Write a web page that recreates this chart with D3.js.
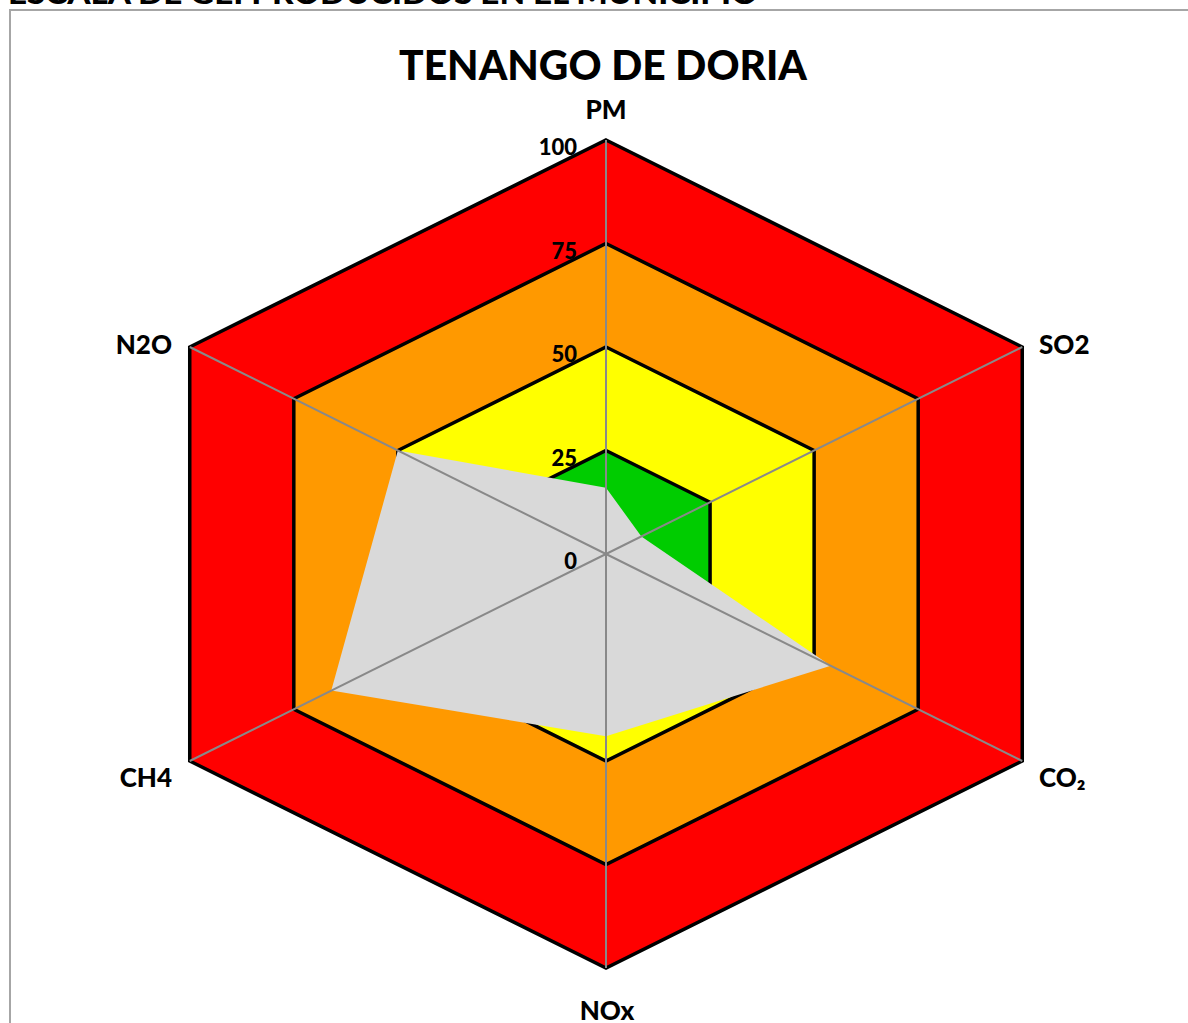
<!DOCTYPE html>
<html>
<head>
<meta charset="utf-8">
<script src="https://cdn.jsdelivr.net/npm/d3@7"></script>
<style>
  html, body { margin: 0; padding: 0; background: #fff; overflow: hidden; }
  svg { display: block; font-family: Lato, "Liberation Sans", sans-serif; font-weight: 900; }
</style>
</head>
<body>
<div id="chart"></div>
<script>
(function radar() {

    const WIDTH = 1188;
    const HEIGHT = 1023;

    // data
    const axes = ["PM", "SO2", "CO\u2082", "NOx", "CH4", "N2O"];
    const values = [16, 8.5, 54, 44, 66, 50];
    const bands = [100, 75, 50, 25];
    const bandColors = ["#FF0000", "#FF9900", "#FFFF00", "#00CC00"];
    const ticks = [0, 25, 50, 75, 100];

    const cx = 606, cy = 554;
    const kx = 1.161; // excel stretches the plot horizontally

    const r = d3.scaleLinear().domain([0, 100]).range([0, 414]);
    const angle = d3.scaleLinear().domain([0, axes.length]).range([0, 2 * Math.PI]);

    const px = (i, v) => cx + kx * r(v) * Math.sin(angle(i));
    const py = (i, v) => cy - r(v) * Math.cos(angle(i));

    const ring = v => axes.map((d, i) => [px(i, v), py(i, v)]);
    const line = d3.line().curve(d3.curveLinearClosed);

    const svg = d3.select("#chart").append("svg")
        .attr("width", WIDTH)
        .attr("height", HEIGHT);

    // cut off heading above the chart
    svg.append("text")
        .attr("x", 8)
        .attr("y", 4)
        .attr("fill", "#000")
        .style("font-size", "30px")
        .attr("textLength", 750)
        .attr("lengthAdjust", "spacingAndGlyphs")
        .text("ESCALA DE GEI PRODUCIDOS EN EL MUNICIPIO");

    // chart frame
    svg.append("rect")
        .attr("x", 10)
        .attr("y", 10)
        .attr("width", WIDTH + 20)
        .attr("height", HEIGHT + 20)
        .attr("fill", "#fff")
        .attr("stroke", "#A6A6A6")
        .attr("stroke-width", 2);

    svg.append("text")
        .attr("x", 603)
        .attr("y", 80)
        .attr("text-anchor", "middle")
        .style("font-size", "41px")
        .attr("textLength", 408)
        .attr("lengthAdjust", "spacingAndGlyphs")
        .text("TENANGO DE DORIA");

    // colored bands
    svg.append("g").selectAll("path")
        .data(bands)
        .join("path")
        .attr("d", v => line(ring(v)))
        .attr("fill", (v, i) => bandColors[i])
        .attr("stroke", "#000")
        .attr("stroke-width", 3.5)
        .attr("stroke-linejoin", "miter");

    // data polygon
    svg.append("path")
        .attr("d", line(values.map((v, i) => [px(i, v), py(i, v)])))
        .attr("fill", "#D9D9D9");

    // spokes
    svg.append("g").selectAll("line")
        .data(axes)
        .join("line")
        .attr("x1", cx)
        .attr("y1", cy)
        .attr("x2", (d, i) => px(i, 100))
        .attr("y2", (d, i) => py(i, 100))
        .attr("stroke", "#898989")
        .attr("stroke-width", 2);

    // tick labels
    svg.append("g").selectAll("text")
        .data(ticks)
        .join("text")
        .attr("x", 577)
        .attr("y", v => cy - r(v) + 15)
        .attr("text-anchor", "end")
        .style("font-size", "22px")
        .text(d => d);

    // axis labels
    const labelPos = [
        { x: 606, y: 119, anchor: "middle" },
        { x: 1039, y: 354, anchor: "start" },
        { x: 1039, y: 787, anchor: "start" },
        { x: 607, y: 1020, anchor: "middle" },
        { x: 172, y: 787, anchor: "end" },
        { x: 172, y: 354, anchor: "end" }
    ];

    svg.append("g").selectAll("text")
        .data(axes)
        .join("text")
        .attr("x", (d, i) => labelPos[i].x)
        .attr("y", (d, i) => labelPos[i].y)
        .attr("text-anchor", (d, i) => labelPos[i].anchor)
        .style("font-size", "26px")
        .text(d => d);

})();
</script>
</body>
</html>
